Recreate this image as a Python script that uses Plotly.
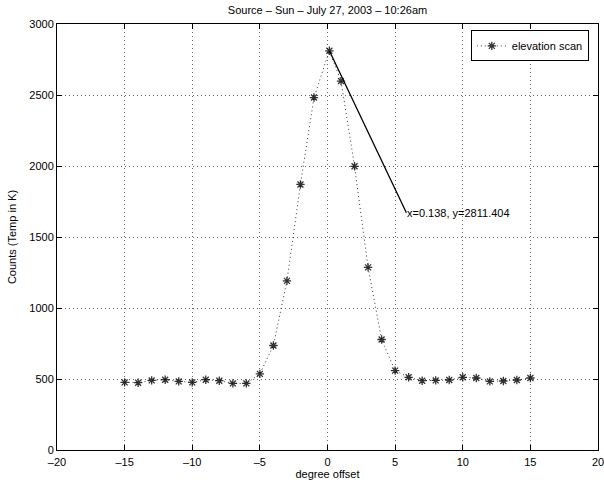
import plotly.graph_objects as go

# Data
offsets = [-15, -14, -13, -12, -11, -10, -9, -8, -7, -6, -5, -4, -3, -2, -1,
           0.138, 1, 2, 3, 4, 5, 6, 7, 8, 9, 10, 11, 12, 13, 14, 15]
counts = [476, 474, 490, 495, 483, 476, 495, 488, 469, 469, 536, 736, 1191, 1870, 2482,
          2811.404, 2598, 1998, 1286, 778, 559, 512, 488, 490, 493, 512, 507, 483, 486, 493, 507]

x_ticks = [-20, -15, -10, -5, 0, 5, 10, 15, 20]
x_tick_text = ["\u201320", "\u201315", "\u201310", "\u20135", "0", "5", "10", "15", "20"]
y_ticks = [0, 500, 1000, 1500, 2000, 2500, 3000]

peak_i = counts.index(max(counts))

FONT = "Liberation Sans, Arial, Helvetica, sans-serif"

fig = go.Figure()
fig.add_trace(go.Scatter(
    x=offsets, y=counts, mode="lines+markers", name="elevation scan",
    line=dict(color="rgba(0,0,0,0.8)", width=1, dash="1px,3px"),
    marker=dict(symbol="asterisk-open", size=7, line=dict(color="black", width=1.3)),
))

fig.add_annotation(
    x=offsets[peak_i], y=counts[peak_i],
    text=f"x={offsets[peak_i]:.3f}, y={counts[peak_i]:.3f}",
    showarrow=True, arrowhead=0, arrowwidth=1.3, arrowcolor="black",
    ax=77, ay=162, xanchor="left", yanchor="middle", borderpad=0,
    font=dict(family=FONT, size=11, color="black"),
)

axis_common = dict(
    showline=True, linecolor="black", linewidth=1, mirror="ticks",
    ticks="inside", ticklen=5, tickcolor="black", tickwidth=1,
    showgrid=True, gridcolor="rgba(0,0,0,0.6)", gridwidth=1, griddash="1px,3px",
    zeroline=False, tickfont=dict(family=FONT, size=11, color="black"),
    automargin=False, ticklabeloverflow="allow",
)

fig.update_xaxes(range=[-20, 20], tickvals=x_ticks, ticktext=x_tick_text,
                 ticklabelstandoff=2,
                 title=dict(text="degree offset", font=dict(family=FONT, size=11, color="black"), standoff=0),
                 **axis_common)
fig.update_yaxes(range=[0, 3000], tickvals=y_ticks,
                 title=dict(text="Counts (Temp in K)", font=dict(family=FONT, size=11, color="black"), standoff=10),
                 **axis_common)

fig.update_layout(
    width=604, height=485,
    margin=dict(l=57, r=6, t=24, b=35),
    paper_bgcolor="white", plot_bgcolor="white",
    title=dict(text="Source \u2013 Sun \u2013 July 27, 2003 \u2013 10:26am",
               x=(57 + 598) / 2 / 604, xanchor="center", y=1 - 6 / 485, yanchor="top",
               font=dict(family=FONT, size=11, color="black")),
    showlegend=True,
    legend=dict(x=0.983, y=0.985, xanchor="right", yanchor="top",
                bgcolor="white", bordercolor="black", borderwidth=1,
                font=dict(family=FONT, size=11, color="black"),
                itemwidth=30, tracegroupgap=0),
    font=dict(family=FONT, size=11, color="black"),
)

fig.write_html("out.html", config={"displayModeBar": False},
               post_script="document.body.style.margin='0';")
